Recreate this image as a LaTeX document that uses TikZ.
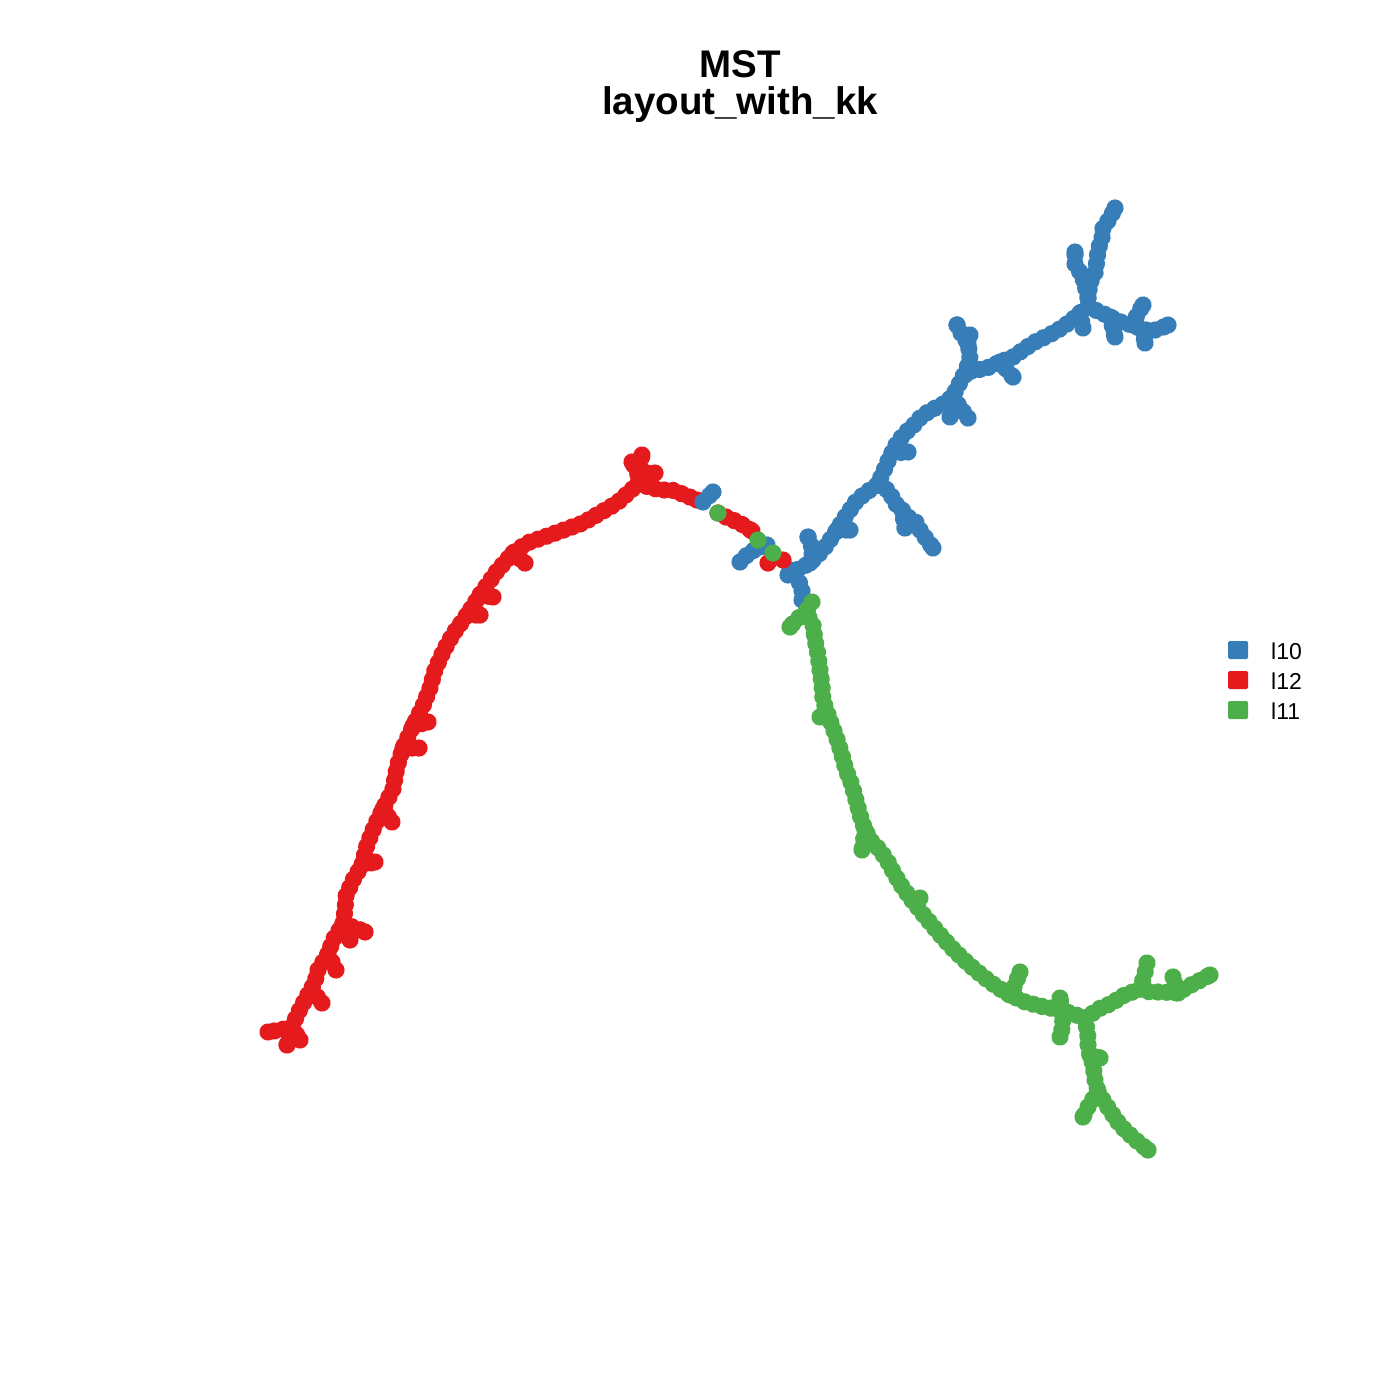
\documentclass[tikz,border=0pt]{standalone}
\usepackage{fontspec}
\setmainfont{Liberation Sans}
\usetikzlibrary{decorations.markings}
\definecolor{cB}{HTML}{377EB8}
\definecolor{cR}{HTML}{E41A1C}
\definecolor{cG}{HTML}{4DAF4A}
\tikzset{
  dotchain/.style={decorate, decoration={markings,
     mark=between positions 0 and 1 step 9pt with {\fill[#1] (0,0) circle (8.6pt);},
     mark=at position 1 with {\fill[#1] (0,0) circle (8.6pt);}}},
  legbox/.style={fill=#1, rounded corners=1.5pt, minimum width=20pt, minimum height=18pt, inner sep=0pt},
  legtxt/.style={anchor=west, inner sep=0pt, font=\fontsize{23}{26}\selectfont},
  titletxt/.style={inner sep=0pt, font=\fontsize{38.5}{44}\selectfont\bfseries}
}
\newcommand\dotat[2]{\fill[#1] #2 circle (8.6pt);}
\begin{document}
\begin{tikzpicture}[x=1pt,y=-1pt]
\useasboundingbox (0,0) rectangle (1400,1400);
\fill[white] (0,0) rectangle (1400,1400);
% title
\node[titletxt] (t1) at (740,64) {MST};
\node[titletxt] (t2) at (740,105) {layout\_with\_kk};
% ---------------- red ----------------
\path[dotchain=cR] (292,1027) -- (298,1013) -- (305,1000) -- (315,982) -- (318,970) -- (328,954) -- (333,940) -- (343,924) -- (345,910) -- (346,896) -- (353,880) -- (362,865) -- (367,845) -- (375,825) -- (383,809) -- (393,789) -- (397,767) -- (403,748) -- (413,726) -- (423,706) -- (430,688) -- (435,670) -- (443,652) -- (453,634) -- (467,615) -- (480,595) -- (497,571) -- (513,553) -- (527,543) -- (550,535) -- (583,523) -- (617,503) -- (638,484);
\path[dotchain=cR] (292,1027) -- (280,1030) -- (268,1032);
\path[dotchain=cR] (292,1027) -- (287,1045);
\path[dotchain=cR] (292,1027) -- (300,1040);
\path[dotchain=cR] (312,990) -- (322,1003);
\path[dotchain=cR] (328,954) -- (336,970);
\path[dotchain=cR] (343,924) -- (350,940);
\path[dotchain=cR] (343,924) -- (356,928) -- (365,932);
\path[dotchain=cR] (362,865) -- (375,862);
\path[dotchain=cR] (383,809) -- (392,822);
\path[dotchain=cR] (413,726) -- (428,722);
\path[dotchain=cR] (403,748) -- (419,748);
\path[dotchain=cR] (467,615) -- (480,615);
\path[dotchain=cR] (480,595) -- (493,597);
\path[dotchain=cR] (513,553) -- (525,563);
\path[dotchain=cR] (638,484) -- (638,473) -- (642,455);
\path[dotchain=cR] (638,473) -- (632,462);
\path[dotchain=cR] (638,473) -- (655,473);
\path[dotchain=cR] (638,484) -- (660,490) -- (672,490) -- (685,495) -- (697,500);
\path[dotchain=cR] (718,513) -- (728,518) -- (740,523) -- (752,531);
% ---------------- blue ----------------
\path[dotchain=cB] (703,502) -- (713,492);
\path[dotchain=cB] (740,562) -- (747,555) -- (757,548) -- (767,545);
\path[dotchain=cB] (802,600) -- (802,587) -- (793,572) -- (810,563) -- (823,550) -- (830,540) -- (837,530) -- (843,520) -- (850,510) -- (857,500) -- (867,492) -- (877,485) -- (883,473) -- (887,463) -- (892,453) -- (897,443) -- (905,433) -- (912,427) -- (920,418) -- (928,412) -- (937,407) -- (947,402) -- (953,395) -- (958,387) -- (962,377) -- (967,372) -- (977,370) -- (987,368) -- (1000,362) -- (1013,357) -- (1023,350) -- (1033,343) -- (1043,338) -- (1053,333) -- (1063,327) -- (1072,320) -- (1080,313) -- (1088,307) -- (1088,297) -- (1090,283) -- (1095,273) -- (1097,260) -- (1098,250) -- (1102,238) -- (1103,228) -- (1110,218) -- (1115,208);
\path[dotchain=cB] (788,575) -- (790,570);
\path[dotchain=cB] (810,563) -- (813,550) -- (808,537);
\path[dotchain=cB] (837,530) -- (850,530);
\path[dotchain=cB] (880,483) -- (890,493) -- (895,503) -- (902,510) -- (908,517) -- (917,523) -- (920,530) -- (927,540) -- (933,548);
\path[dotchain=cB] (902,510) -- (905,528);
\path[dotchain=cB] (892,453) -- (908,452);
\path[dotchain=cB] (953,397) -- (962,410) -- (968,418);
\path[dotchain=cB] (953,400) -- (950,417);
\path[dotchain=cB] (965,375) -- (970,357) -- (968,343) -- (962,335) -- (957,325);
\path[dotchain=cB] (968,343) -- (970,335);
\path[dotchain=cB] (1000,362) -- (1013,377);
\path[dotchain=cB] (1080,313) -- (1083,328);
\path[dotchain=cB] (1088,297) -- (1082,275) -- (1075,265) -- (1075,252);
\path[dotchain=cB] (1088,307) -- (1100,312) -- (1110,317) -- (1123,323) -- (1133,325) -- (1143,330) -- (1157,330) -- (1168,325);
\path[dotchain=cB] (1110,317) -- (1115,337);
\path[dotchain=cB] (1133,325) -- (1137,315) -- (1143,305);
\path[dotchain=cB] (1143,330) -- (1145,343);
% ---------------- red/green junction dots ----------------
\dotat{cR}{(768,563)}
\dotat{cR}{(783,560)}
% ---------------- green ----------------
\path[dotchain=cG] (812,602) -- (806,612) -- (813,625) -- (815,640) -- (818,655) -- (820,670) -- (822,685) -- (823,700) -- (828,715) -- (833,728) -- (838,742) -- (842,755) -- (846,770) -- (852,785) -- (856,800) -- (860,815) -- (865,830) -- (872,842) -- (880,850) -- (888,862) -- (895,875) -- (903,888) -- (912,900) -- (922,913) -- (932,925) -- (942,937) -- (952,948) -- (962,958) -- (973,968) -- (985,978) -- (997,987) -- (1010,995) -- (1025,1002) -- (1040,1006) -- (1055,1009) -- (1070,1013) -- (1085,1018);
\path[dotchain=cG] (806,612) -- (796,620) -- (790,627);
\path[dotchain=cG] (828,715) -- (820,717);
\path[dotchain=cG] (865,830) -- (862,850);
\path[dotchain=cG] (912,900) -- (920,898);
\path[dotchain=cG] (1010,995) -- (1015,985) -- (1020,972);
\path[dotchain=cG] (1062,1010) -- (1060,998);
\path[dotchain=cG] (1062,1012) -- (1063,1025) -- (1060,1037);
\path[dotchain=cG] (1085,1018) -- (1093,1013) -- (1102,1007) -- (1113,1003) -- (1120,997) -- (1130,993) -- (1140,989) -- (1150,992) -- (1163,992) -- (1178,993) -- (1187,987) -- (1197,982) -- (1210,975);
\path[dotchain=cG] (1140,989) -- (1145,973) -- (1147,963);
\path[dotchain=cG] (1178,993) -- (1173,977);
\path[dotchain=cG] (1085,1018) -- (1088,1037) -- (1088,1048) -- (1093,1065) -- (1095,1080) -- (1098,1092);
\path[dotchain=cG] (1090,1055) -- (1100,1058);
\path[dotchain=cG] (1098,1092) -- (1090,1103) -- (1083,1117);
\path[dotchain=cG] (1098,1092) -- (1105,1103) -- (1113,1115) -- (1120,1125) -- (1128,1133) -- (1138,1142) -- (1148,1150);
\dotat{cG}{(718,513)}
\dotat{cG}{(758,540)}
\dotat{cG}{(773,553)}
% ---------------- legend ----------------
\node[legbox=cB] (k1) at (1238,650) {};
\node[legbox=cR] (k2) at (1238,680) {};
\node[legbox=cG] (k3) at (1238,710) {};
\node[legtxt] (l1) at (1271,651) {l10};
\node[legtxt] (l2) at (1271,681) {l12};
\node[legtxt] (l3) at (1271,711) {l11};
\end{tikzpicture}
\end{document}
